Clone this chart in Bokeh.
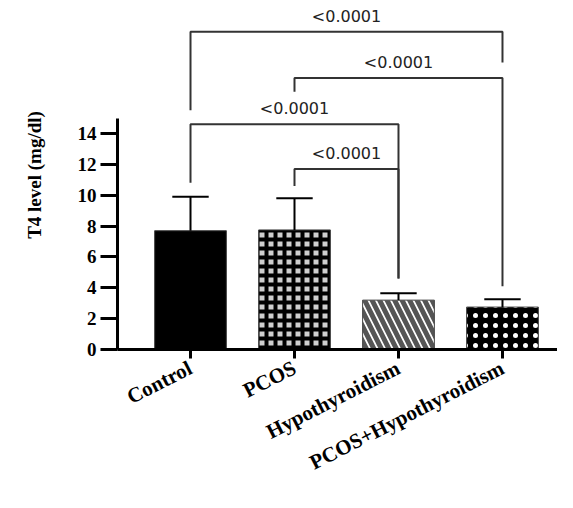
from bokeh.plotting import figure
from bokeh.models import FixedTicker, Range1d
from bokeh.core.properties import value
from bokeh.embed import file_html
from bokeh.resources import INLINE

# ---- data ----
groups = ["Control", "PCOS", "Hypothyroidism", "PCOS+Hypothyroidism"]
means = [7.7, 7.75, 3.2, 2.75]
sds = [2.2, 2.05, 0.45, 0.5]

# significance brackets: (left group, right group)
pair_left = [0, 1, 0, 1]
pair_right = [3, 3, 2, 2]
bracket_y = [20.6, 17.6, 14.6, 11.7]
left_leg_end = [15.5, 16.7, 10.8, 10.6]
right_leg_end = [18.6, 4.1, 4.6, 4.6]
p_labels = ["<0.0001", "<0.0001", "<0.0001", "<0.0001"]

y_ticks = [0, 2, 4, 6, 8, 10, 12, 14]

p = figure(width=557, height=492, output_backend="svg", toolbar_location=None,
           x_range=Range1d(-0.702, 3.529), y_range=Range1d(0, 22.62),
           min_border_left=117, min_border_right=0, min_border_top=0,
           min_border_bottom=143)
p.outline_line_color = None
p.xgrid.grid_line_color = None
p.ygrid.grid_line_color = None
p.background_fill_color = "white"
p.border_fill_color = "white"

xs = list(range(len(groups)))
bw = 0.69
fills = ["black", "#cfcfcf", "white", "black"]
hatches = [" ", "cross", "left_diagonal_line", "dot"]
hcolors = ["black", "black", "#555555", "white"]
hweights = [1, 4, 5, 5]
hscales = [10, 9, 15, 10]
for i in xs:
    p.vbar(x=[xs[i]], top=[means[i]], width=bw, bottom=0,
           fill_color=fills[i], line_color="#444444", line_width=1,
           hatch_pattern=hatches[i], hatch_color=hcolors[i],
           hatch_weight=hweights[i], hatch_scale=hscales[i])

# error bars (upper only)
tops = [m + s for m, s in zip(means, sds)]
p.segment(x0=xs, y0=means, x1=xs, y1=tops, line_color="black", line_width=2)
cap = 0.175
p.segment(x0=[x - cap for x in xs], y0=tops, x1=[x + cap for x in xs], y1=tops,
          line_color="black", line_width=2)

# brackets
bx, by = [], []
for l, r, yb, le, re_ in zip(pair_left, pair_right, bracket_y, left_leg_end, right_leg_end):
    bx.append([xs[l], xs[l], xs[r], xs[r]])
    by.append([le, yb, yb, re_])
p.multi_line(xs=bx, ys=by, line_color="#333333", line_width=2)
lx = [(xs[l] + xs[r]) / 2 for l, r in zip(pair_left, pair_right)]
ly = [y + 1.0 for y in bracket_y]
p.text(x=lx, y=ly, text=p_labels, text_align="center", text_baseline="middle",
       text_font=value("DejaVu Sans"), text_font_size="16px", text_color="#222222")

# axes
yax = p.yaxis[0]
yax.ticker = FixedTicker(ticks=y_ticks)
yax.bounds = (0, 15)
yax.axis_line_width = 3
yax.major_tick_line_width = 3
yax.major_tick_out = 17
yax.major_tick_in = 0
yax.minor_tick_line_color = None
yax.major_label_text_font = "Liberation Serif"
yax.major_label_text_font_style = "bold"
yax.major_label_text_font_size = "19px"
yax.major_label_text_color = "black"
yax.major_label_standoff = 4
yax.axis_label = "T4 level (mg/dl)"
yax.axis_label_text_font = "Liberation Serif"
yax.axis_label_text_font_style = "bold"
yax.axis_label_text_font_size = "19px"
yax.axis_label_text_color = "black"
yax.axis_label_standoff = 30

xax = p.xaxis[0]
xax.ticker = FixedTicker(ticks=xs)
xax.major_label_overrides = {i: g for i, g in zip(xs, groups)}
xax.axis_line_width = 3
xax.major_tick_line_width = 3
xax.major_tick_out = 9
xax.major_tick_in = 0
xax.minor_tick_line_color = None
xax.major_label_orientation = 0.47
xax.major_label_text_font = "Liberation Serif"
xax.major_label_text_font_style = "bold"
xax.major_label_text_font_size = "21px"
xax.major_label_text_color = "black"
xax.major_label_standoff = 8

open("out.html", "w").write(file_html(p, INLINE))
